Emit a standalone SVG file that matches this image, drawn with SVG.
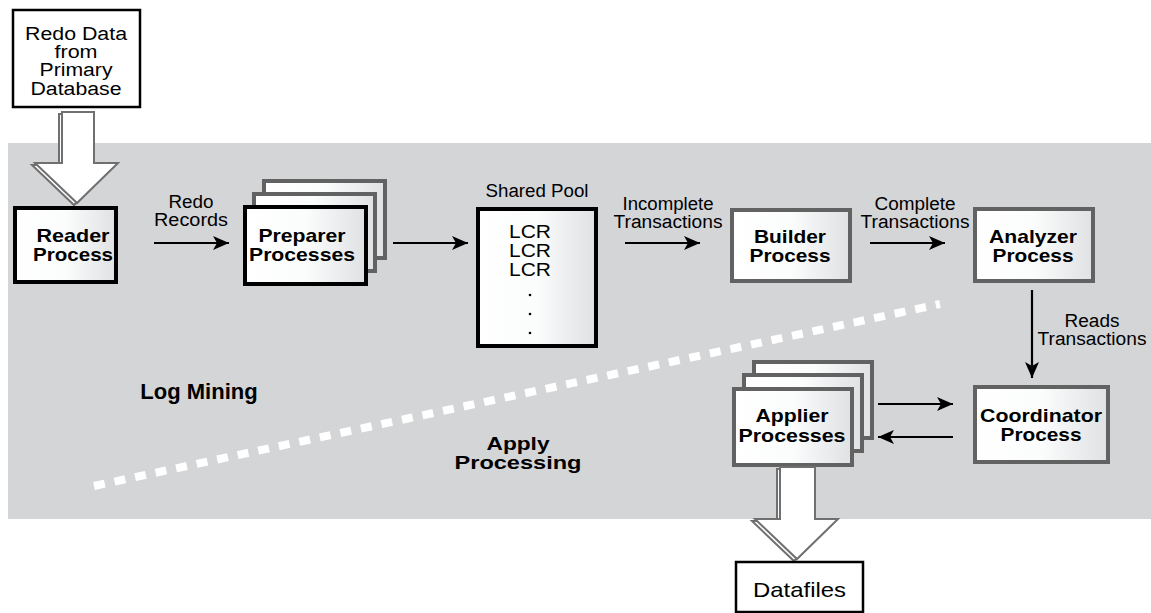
<svg xmlns="http://www.w3.org/2000/svg" width="1151" height="613" viewBox="0 0 1151 613">
<defs>
<linearGradient id="g" x1="0" y1="0" x2="1" y2="0">
<stop offset="0" stop-color="#ffffff"/>
<stop offset="0.5" stop-color="#fbfcfc"/>
<stop offset="1" stop-color="#dfe1e3"/>
</linearGradient>
<marker id="ah" markerUnits="userSpaceOnUse" markerWidth="18" markerHeight="14" refX="16" refY="7" orient="auto">
<path d="M0,0 L16,7 L0,14 L4,7 z" fill="#000"/>
</marker>
</defs>
<style>
.bg{fill:#d4d5d7}
.bk{fill:url(#g);stroke:#000;stroke-width:4}
.gy{fill:url(#g);stroke:#626262;stroke-width:4}
.plain{fill:#fff;stroke:#000;stroke-width:2.5}
.hollow{fill:#fff;stroke:#707070;stroke-width:2}
.conn{stroke:#000;stroke-width:2.2;fill:none;marker-end:url(#ah)}
.t{font-family:"Liberation Sans",Arial,sans-serif;font-size:18px;fill:#000;text-anchor:middle}
.b{font-family:"Liberation Sans",Arial,sans-serif;font-size:18.5px;font-weight:bold;fill:#000;text-anchor:middle}
</style>
<rect class="bg" x="8" y="143" width="1143" height="376"/>
<line x1="94" y1="486" x2="940" y2="304" stroke="#fff" stroke-width="8" stroke-dasharray="11 10"/>
<text class="b" x="199" y="399" style="font-size:22px">Log Mining</text>
<text class="b" x="518" y="450" textLength="63" lengthAdjust="spacingAndGlyphs">Apply</text>
<text class="b" x="518" y="469" textLength="127" lengthAdjust="spacingAndGlyphs">Processing</text>

<g id="redo-data">
<rect class="plain" x="13" y="10" width="127" height="97"/>
<text class="t" x="76" y="40" textLength="102" lengthAdjust="spacingAndGlyphs">Redo Data</text>
<text class="t" x="76" y="58" textLength="43" lengthAdjust="spacingAndGlyphs">from</text>
<text class="t" x="76" y="76" textLength="73" lengthAdjust="spacingAndGlyphs">Primary</text>
<text class="t" x="76" y="95" textLength="91" lengthAdjust="spacingAndGlyphs">Database</text>
</g>
<g id="arrow-in">
<polygon class="hollow" transform="translate(-3,2)" points="62,112 94,112 94,163 118,163 77,203 35,163 62,163"/>
<polygon class="hollow" points="62,112 94,112 94,163 118,163 77,203 35,163 62,163"/>
</g>
<g id="reader">
<rect class="bk" x="15" y="208" width="101" height="74"/>
<text class="b" x="73" y="242" textLength="73" lengthAdjust="spacingAndGlyphs">Reader</text>
<text class="b" x="73" y="261" textLength="80" lengthAdjust="spacingAndGlyphs">Process</text>
</g>
<g id="preparer">
<rect class="gy" x="264" y="181" width="121" height="77"/>
<rect class="gy" x="254" y="194" width="121" height="77"/>
<rect class="bk" x="245" y="207" width="121" height="77"/>
<text class="b" x="302" y="242" textLength="87" lengthAdjust="spacingAndGlyphs">Preparer</text>
<text class="b" x="302" y="261" textLength="106" lengthAdjust="spacingAndGlyphs">Processes</text>
</g>
<g id="shared-pool">
<text class="t" x="537" y="197" textLength="103" lengthAdjust="spacingAndGlyphs">Shared Pool</text>
<rect class="bk" x="478" y="209" width="118" height="137"/>
<text class="t" x="530" y="238" textLength="42" lengthAdjust="spacingAndGlyphs">LCR</text>
<text class="t" x="530" y="257" textLength="42" lengthAdjust="spacingAndGlyphs">LCR</text>
<text class="t" x="530" y="276" textLength="42" lengthAdjust="spacingAndGlyphs">LCR</text>
<circle cx="530" cy="295" r="1.3" fill="#000"/>
<circle cx="530" cy="314" r="1.3" fill="#000"/>
<circle cx="530" cy="333" r="1.3" fill="#000"/>
</g>
<g id="builder">
<rect class="gy" x="732" y="210" width="118" height="71"/>
<text class="b" x="790" y="243" textLength="72" lengthAdjust="spacingAndGlyphs">Builder</text>
<text class="b" x="790" y="262" textLength="81" lengthAdjust="spacingAndGlyphs">Process</text>
</g>
<g id="analyzer">
<rect class="gy" x="975" y="209" width="118" height="72"/>
<text class="b" x="1033" y="243" textLength="88" lengthAdjust="spacingAndGlyphs">Analyzer</text>
<text class="b" x="1033" y="262" textLength="81" lengthAdjust="spacingAndGlyphs">Process</text>
</g>
<g id="coordinator">
<rect class="gy" x="975" y="387" width="133" height="75"/>
<text class="b" x="1041" y="422" textLength="122" lengthAdjust="spacingAndGlyphs">Coordinator</text>
<text class="b" x="1041" y="441" textLength="81" lengthAdjust="spacingAndGlyphs">Process</text>
</g>
<g id="applier">
<rect class="gy" x="754" y="362" width="118" height="76"/>
<rect class="gy" x="744" y="375" width="118" height="76"/>
<rect class="gy" x="734" y="389" width="118" height="76"/>
<text class="b" x="792" y="422" textLength="73" lengthAdjust="spacingAndGlyphs">Applier</text>
<text class="b" x="792" y="442" textLength="107" lengthAdjust="spacingAndGlyphs">Processes</text>
</g>
<g id="arrow-out">
<polygon class="hollow" transform="translate(-3,2)" points="780,467 815,467 815,519 838,519 797,559 755,519 780,519"/>
<polygon class="hollow" points="780,467 815,467 815,519 838,519 797,559 755,519 780,519"/>
</g>
<g id="datafiles">
<rect class="plain" x="736" y="562" width="127" height="50"/>
<text class="t" x="799.5" y="597" style="font-size:21px" textLength="93" lengthAdjust="spacingAndGlyphs">Datafiles</text>
</g>
<g id="connectors">
<line class="conn" x1="154" y1="243" x2="229" y2="243"/>
<line class="conn" x1="393" y1="243" x2="468" y2="243"/>
<line class="conn" x1="625" y1="243" x2="700" y2="243"/>
<line class="conn" x1="870" y1="243" x2="945" y2="243"/>
<line class="conn" x1="1032" y1="290" x2="1032" y2="378"/>
<line class="conn" x1="878" y1="404" x2="953" y2="404"/>
<line class="conn" x1="953" y1="437" x2="878" y2="437"/>
<text class="t" x="191" y="208" textLength="45" lengthAdjust="spacingAndGlyphs">Redo</text>
<text class="t" x="191" y="226" textLength="74" lengthAdjust="spacingAndGlyphs">Records</text>
<text class="t" x="668" y="210" textLength="91" lengthAdjust="spacingAndGlyphs">Incomplete</text>
<text class="t" x="668" y="228" textLength="109" lengthAdjust="spacingAndGlyphs">Transactions</text>
<text class="t" x="915" y="210" textLength="81" lengthAdjust="spacingAndGlyphs">Complete</text>
<text class="t" x="915" y="228" textLength="109" lengthAdjust="spacingAndGlyphs">Transactions</text>
<text class="t" x="1092" y="327" textLength="55" lengthAdjust="spacingAndGlyphs">Reads</text>
<text class="t" x="1092" y="345" textLength="109" lengthAdjust="spacingAndGlyphs">Transactions</text>
</g>
</svg>
